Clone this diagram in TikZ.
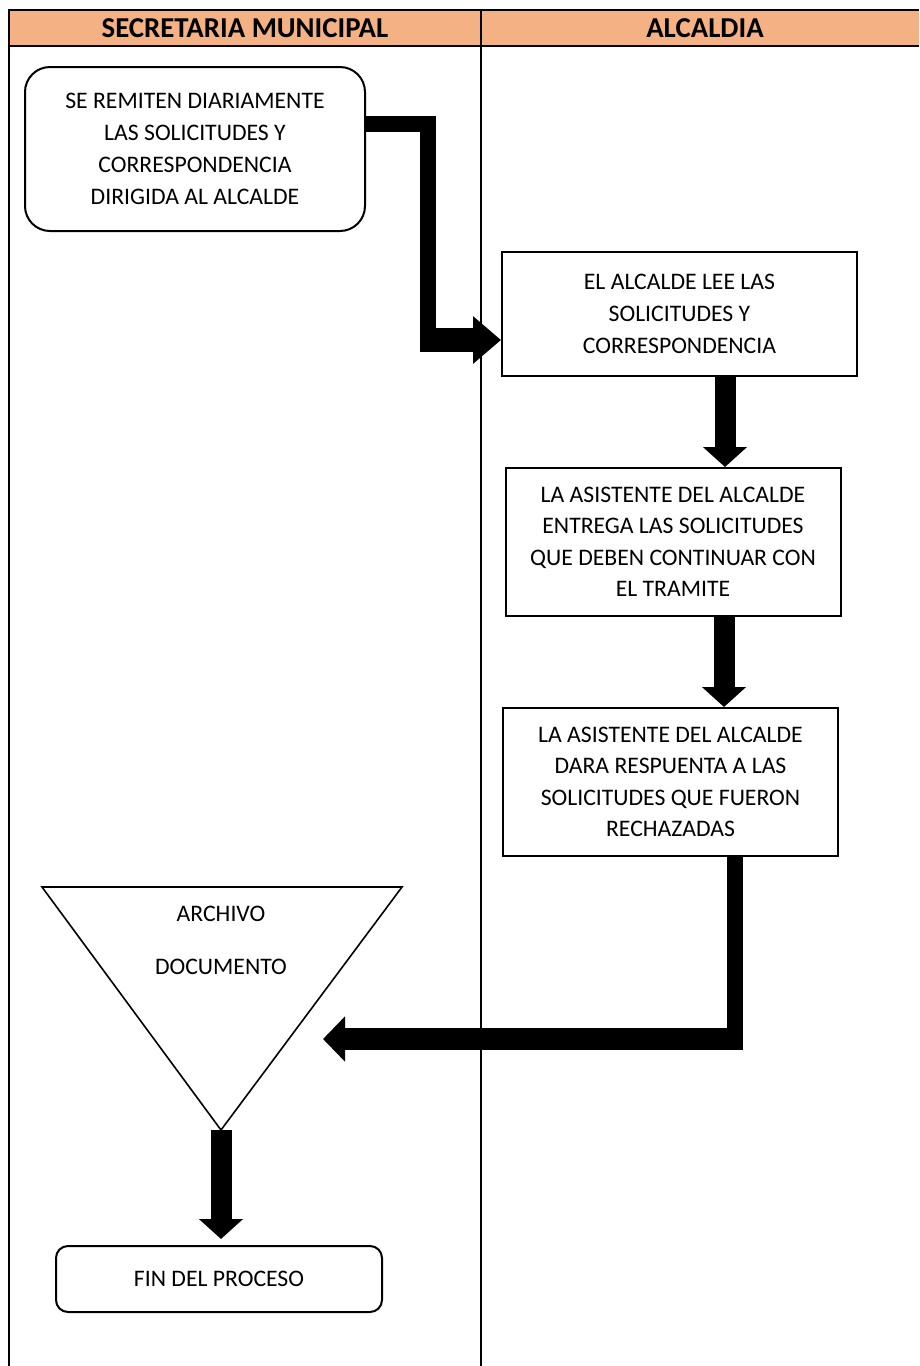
\documentclass[tikz,border=0pt]{standalone}
\usepackage{fontspec}
\setmainfont{Carlito}
\usetikzlibrary{positioning,arrows.meta}
\definecolor{encabezado}{HTML}{F4B183}
\begin{document}
\begin{tikzpicture}[x=1pt,y=-1pt,line join=miter,font=\fontsize{23.7}{32}\selectfont,
	caja/.style={draw,line width=2pt,align=center,inner sep=0pt},
	titulo/.style={font=\fontsize{28.8}{32}\selectfont\bfseries},
	flecha/.style={line width=21pt,-{Triangle[length=20pt 0,width=43pt 0]}},
	tramo/.style={line width=16pt}]
	\useasboundingbox (0,0) rectangle (919,1366);
	% carriles
	\fill [encabezado] (9,10) rectangle (919,46);
	\draw [line width=2pt] (919,10) -- (9,10) -- (9,1366) (9,46) -- (919,46);
	\draw [line width=1.5pt] (481,10) -- (481,1366);
	\node [titulo] (sec) at (245,28) {SECRETARIA MUNICIPAL};
	\node [titulo] (alc) at (705,28) {ALCALDIA};
	% pasos
	\node [caja, rounded corners=25pt, minimum width=340pt, minimum height=164pt] (remite) at (195,149) {SE REMITEN DIARIAMENTE\\LAS SOLICITUDES Y\\CORRESPONDENCIA\\DIRIGIDA AL ALCALDE};
	\node [caja, minimum width=355pt, minimum height=124pt] (lee) at (679.5,314) {EL ALCALDE LEE LAS\\SOLICITUDES Y\\CORRESPONDENCIA};
	\node [caja, minimum width=335pt, minimum height=148pt, font=\fontsize{23.7}{31.5}\selectfont] (entrega) at (673,542) {LA ASISTENTE DEL ALCALDE\\ENTREGA LAS SOLICITUDES\\QUE DEBEN CONTINUAR CON\\EL TRAMITE};
	\node [caja, minimum width=335pt, minimum height=148pt, font=\fontsize{23.7}{31.5}\selectfont] (responde) at (670.5,782) {LA ASISTENTE DEL ALCALDE\\DARA RESPUENTA A LAS\\SOLICITUDES QUE FUERON\\RECHAZADAS};
	\coordinate (arch-a) at (42,887);
	\coordinate (arch-b) at (402,887);
	\coordinate (arch-c) at (221,1130);
	\draw [line width=1.6pt] (arch-a) -- (arch-b) -- (arch-c) -- cycle;
	\node (archivo) at (221,940) [align=center] {ARCHIVO\\[21pt]DOCUMENTO};
	\node [caja, rounded corners=12pt, minimum width=326pt, minimum height=66pt] (fin) at (219,1279) {FIN DEL PROCESO};
	% flechas
	\coordinate (codo1) at (420,340);
	\coordinate (codo4) at (743,1039);
	\coordinate (punta4) at (323,1039);
	\draw [tramo] (remite.east |- 0,124) -| (428,352);
	\draw [flecha, line width=24pt, -{Triangle[length=28pt 0,width=46pt 0]}] (codo1) -- (lee.west |- codo1);
	\draw [flecha] (lee.south -| 725,0) -- (entrega.north -| 725,0);
	\draw [flecha] (entrega.south -| 724,0) -- (responde.north -| 724,0);
	\draw [tramo] (responde.south -| 735,0) -- (735,1050);
	\draw [flecha, line width=22pt, -{Triangle[length=22pt 0,width=44pt 0]}] (codo4) -- (punta4);
	\draw [flecha, shorten >=6pt] (arch-c) -- (fin.north -| arch-c);
\end{tikzpicture}
\end{document}
